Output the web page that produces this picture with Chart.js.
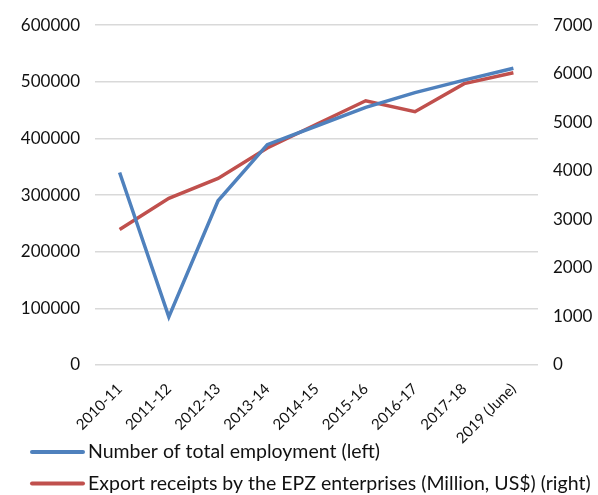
<!DOCTYPE html>
<html>
<head>
<meta charset="utf-8">
<title>EPZ employment and export receipts</title>
<script src="https://cdn.jsdelivr.net/npm/chart.js@4.4.1/dist/chart.umd.min.js"></script>
<style>
    html, body { margin: 0; padding: 0; background: #fff; }
    #wrap { width: 598px; height: 495px; position: relative; }
</style>
</head>
<body>
<div id="wrap"><canvas id="epzChart"></canvas></div>
<script>
// Годы (финансовые)
const years = ['2010-11', '2011-12', '2012-13', '2013-14', '2014-15', '2015-16', '2016-17', '2017-18', '2019 (June)'];

// Занятость (левая ось)
const employment = [340000, 85000, 290000, 389000, 422000, 455000, 481000, 503000, 524000];

// Экспорт, млн долл. США (правая ось)
const exportReceipts = [2790, 3435, 3843, 4470, 4959, 5443, 5218, 5796, 6020];

const leftAxis = { min: 0, max: 600000, step: 100000 };
const rightAxis = { min: 0, max: 7000, step: 1000 };

const labelEmployment = 'Number of total employment (left)';
const labelExports = 'Export receipts by the EPZ enterprises (Million, US$) (right)';

const BLUE = '#4f81bd';
const RED = '#c0504d';
const FONT = 'Lato, "Open Sans", sans-serif';

// Легенда в две строки, линия + подпись
const lineLegend = {
    id: 'lineLegend',
    afterDraw(chart) {
        const ctx = chart.ctx;
        ctx.save();
        chart.data.datasets.forEach((ds, i) => {
            const y = 452 + i * 31.5;
            ctx.strokeStyle = ds.borderColor;
            ctx.lineWidth = 4;
            ctx.lineCap = 'round';
            ctx.beginPath();
            ctx.moveTo(32, y);
            ctx.lineTo(83, y);
            ctx.stroke();
            ctx.fillStyle = '#111';
            ctx.font = '19.5px ' + FONT;
            ctx.textBaseline = 'middle';
            ctx.fillText(ds.label, 88, y);
        });
        ctx.restore();
    }
};

Chart.defaults.font.family = FONT;
Chart.defaults.color = '#111';

new Chart(document.getElementById('epzChart'), {
    type: 'line',
    data: {
        labels: years,
        datasets: [
            {
                label: labelEmployment,
                data: employment,
                yAxisID: 'yLeft',
                borderColor: BLUE,
                backgroundColor: BLUE,
                borderWidth: 3.5,
                pointRadius: 0,
                tension: 0
            },
            {
                label: labelExports,
                data: exportReceipts,
                yAxisID: 'yRight',
                borderColor: RED,
                backgroundColor: RED,
                borderWidth: 3.5,
                pointRadius: 0,
                tension: 0
            }
        ]
    },
    options: {
        responsive: true,
        maintainAspectRatio: false,
        animation: false,
        layout: { padding: { top: 22, left: 0, right: 0, bottom: 0 } },
        plugins: {
            legend: { display: false },
            tooltip: { enabled: false }
        },
        scales: {
            x: {
                offset: true,
                grid: { display: false, drawTicks: false },
                border: { display: false },
                ticks: {
                    minRotation: 45,
                    maxRotation: 45,
                    padding: 15,
                    font: { size: 15 }
                },
                afterFit: (scale) => { scale.height = 130; }
            },
            yLeft: {
                position: 'left',
                min: leftAxis.min,
                max: leftAxis.max,
                grid: { color: '#d9d9d9', lineWidth: 1.5, drawTicks: false },
                border: { display: false },
                ticks: {
                    stepSize: leftAxis.step,
                    padding: 15,
                    font: { size: 17 },
                    callback: (v) => String(v)
                },
                afterFit: (scale) => { scale.width = 95; }
            },
            yRight: {
                position: 'right',
                min: rightAxis.min,
                max: rightAxis.max,
                grid: { display: false, drawTicks: false },
                border: { display: false },
                ticks: {
                    stepSize: rightAxis.step,
                    padding: 15,
                    font: { size: 17 },
                    callback: (v) => String(v)
                },
                afterFit: (scale) => { scale.width = 60; }
            }
        }
    },
    plugins: [lineLegend]
});
</script>
</body>
</html>
